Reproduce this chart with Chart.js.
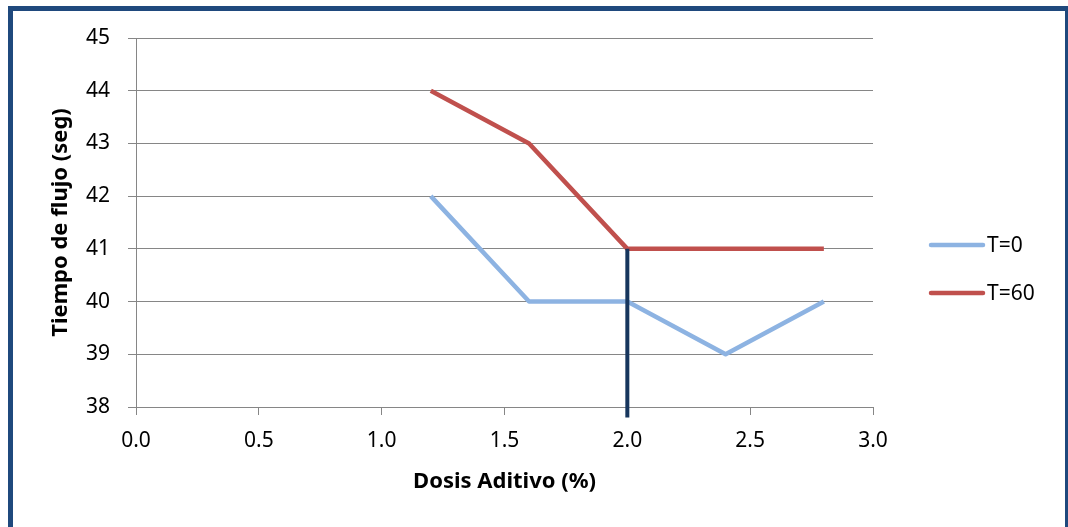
<!DOCTYPE html>
<html>
<head>
<meta charset="utf-8">
<script src="https://cdn.jsdelivr.net/npm/chart.js@4"></script>
<style>
  html, body { margin: 0; padding: 0; background: #fff; overflow: hidden; }
  #wrap { position: relative; width: 1068px; height: 527px; }
  #frame {
    position: absolute; left: 8px; top: 6px;
    width: 1052px; height: 540px;
    border: 5px solid #1F497D;
    pointer-events: none;
  }
</style>
</head>
<body>
<div id="wrap">
  <canvas id="chart" width="1068" height="527"></canvas>
  <div id="frame"></div>
</div>
<script>
// datos del grafico
const dosis = [1.2, 1.6, 2.0, 2.4, 2.8];
const t0 = [42, 40, 40, 39, 40];
const t60 = [44, 43, 41, 41, 41];
const seriesLabels = ['T=0', 'T=60'];
// linea vertical de referencia en 2.0 %
const refX = [2.0, 2.0];
const refY = [41, 37.8];

const FONT = '"Noto Sans", "Open Sans", sans-serif';
const GRID = '#868686';

const toPoints = (xs, ys) => xs.map((x, i) => ({ x: x, y: ys[i] }));

// legend drawn by hand so it sits where Excel put it
const sideLegend = {
  id: 'sideLegend',
  afterDraw(chart) {
    const ctx = chart.ctx;
    const rows = [245, 293];
    ctx.save();
    ctx.font = '21px ' + FONT;
    ctx.textBaseline = 'middle';
    ctx.fillStyle = '#000';
    for (let i = 0; i < 2; i++) {
      const ds = chart.data.datasets[i];
      ctx.strokeStyle = ds.borderColor;
      ctx.lineWidth = ds.borderWidth;
      ctx.lineCap = 'round';
      ctx.beginPath();
      ctx.moveTo(931, rows[i]);
      ctx.lineTo(983, rows[i]);
      ctx.stroke();
      ctx.fillText(ds.label, 987, rows[i] + 1);
    }
    ctx.restore();
  }
};

new Chart(document.getElementById('chart').getContext('2d'), {
  type: 'scatter',
  data: {
    datasets: [
      {
        label: seriesLabels[0],
        data: toPoints(dosis, t0),
        showLine: true,
        borderColor: '#8DB3E2',
        backgroundColor: '#8DB3E2',
        borderWidth: 4.5,
        borderJoinStyle: 'round',
        pointRadius: 0,
        order: 2
      },
      {
        label: seriesLabels[1],
        data: toPoints(dosis, t60),
        showLine: true,
        borderColor: '#C0504D',
        backgroundColor: '#C0504D',
        borderWidth: 4.5,
        borderJoinStyle: 'round',
        pointRadius: 0,
        order: 1
      },
      {
        label: 'ref',
        data: toPoints(refX, refY),
        showLine: true,
        borderColor: '#17365D',
        borderWidth: 4,
        pointRadius: 0,
        clip: false,
        order: 0
      }
    ]
  },
  options: {
    responsive: false,
    animation: false,
    layout: { padding: { left: 40, top: 38, right: 195, bottom: 0 } },
    plugins: {
      legend: { display: false },
      tooltip: { enabled: false }
    },
    scales: {
      x: {
        type: 'linear',
        min: 0,
        max: 3,
        afterFit: (s) => { s.height = 120; },
        ticks: {
          stepSize: 0.5,
          padding: 13,
          color: '#000',
          font: { family: FONT, size: 21 },
          callback: (v) => v.toFixed(1)
        },
        grid: { drawOnChartArea: false, color: GRID, tickLength: 8 },
        border: { color: GRID },
        title: {
          display: true,
          text: 'Dosis Aditivo (%)',
          color: '#000',
          font: { family: FONT, size: 22, weight: 'bold' },
          padding: { top: 0, bottom: 32 }
        }
      },
      y: {
        min: 38,
        max: 45,
        afterFit: (s) => { s.width = 96; },
        ticks: {
          stepSize: 1,
          padding: 18,
          color: '#000',
          font: { family: FONT, size: 21 }
        },
        grid: { color: GRID, tickLength: 8 },
        border: { color: GRID },
        title: {
          display: true,
          text: 'Tiempo de flujo (seg)',
          color: '#000',
          font: { family: FONT, size: 22, weight: 'bold' },
          padding: { top: 8, bottom: 0 }
        }
      }
    }
  },
  plugins: [sideLegend]
});
</script>
</body>
</html>
